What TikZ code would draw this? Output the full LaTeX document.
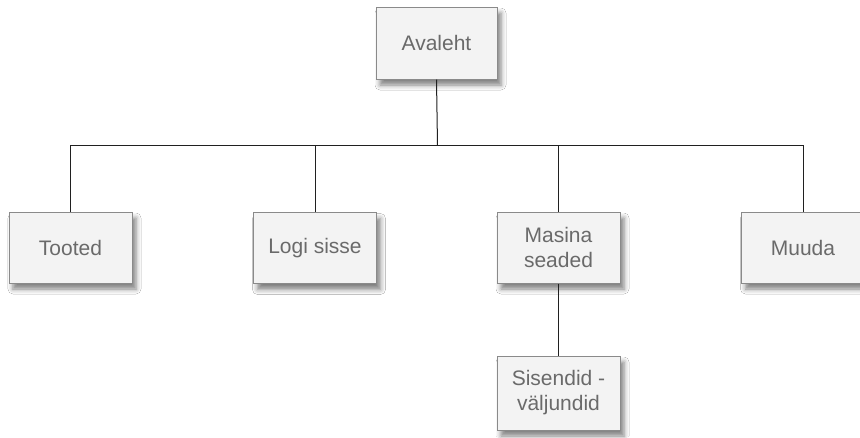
\documentclass[tikz,border=0pt]{standalone}
\usepackage{fontspec}
\setmainfont{Liberation Sans}
\usetikzlibrary{shadows.blur}
\definecolor{boxfill}{HTML}{F3F3F3}
\definecolor{boxline}{HTML}{8A8A8A}
\definecolor{boxtext}{HTML}{6A6A6A}
\definecolor{wire}{HTML}{202020}
\tikzset{
  pagebox/.style={draw=boxline, line width=1pt, fill=boxfill, text=boxtext,
    minimum width=123pt, minimum height=71pt, align=center, inner sep=0pt,
    font=\fontsize{21pt}{25pt}\selectfont,
    blur shadow={shadow xshift=4pt, shadow yshift=-6pt, shadow blur radius=5pt, shadow opacity=50}},
  wireline/.style={draw=wire, line width=1pt}
}
\begin{document}
\begin{tikzpicture}[x=1pt,y=-1pt]
\path[use as bounding box, fill=white] (0,0) rectangle (860,437);
\begin{scope}
\clip (0,0) rectangle (860,437);
\node[pagebox, minimum width=121pt, minimum height=72pt] (home) at (436.5,43) {Avaleht};
\node[pagebox] (tooted) at (70.5,247.5) {Tooted};
\node[pagebox] (logi) at (315,248) {Logi sisse};
\node[pagebox] (masina) at (558.5,247.5) {Masina\\seaded};
\node[pagebox] (muuda) at (803,247.5) {Muuda};
\node[pagebox, minimum height=74pt] (sisend) at (558.5,393) {Sisendid -\\väljundid};
\coordinate (bus) at (437.5,145.5);
\draw[wireline] (home.south) -- (bus);
\draw[wireline] (tooted.north) |- (bus);
\draw[wireline] (logi.north) |- (bus);
\draw[wireline] (masina.north) |- (bus);
\draw[wireline] (muuda.north) |- (bus);
\draw[wireline] (masina.south) -- (sisend.north);
\end{scope}
\end{tikzpicture}
\end{document}
